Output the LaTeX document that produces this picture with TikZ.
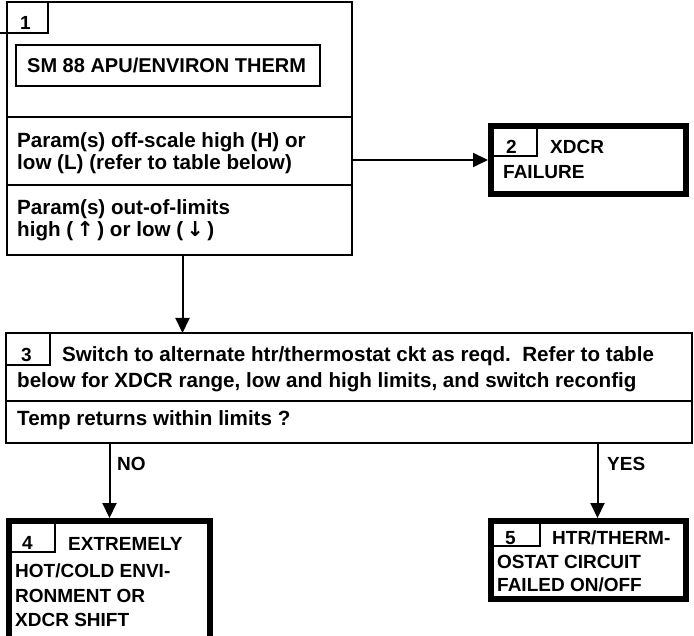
\documentclass[tikz,border=0pt]{standalone}
\usepackage{fontspec}
\setmainfont{Liberation Sans}
\newfontfamily\symfont{DejaVu Sans}
\usetikzlibrary{arrows.meta}
\begin{document}
\begin{tikzpicture}[x=1pt,y=-1pt,
  thinbox/.style={draw, line width=2pt, inner sep=0pt, outer sep=0pt},
  heavybox/.style={draw, line width=6pt, inner sep=0pt, outer sep=3pt},
  tagline/.style={line width=1.6pt},
  txt/.style={anchor=base west, inner sep=0pt, font=\fontsize{20.6}{24}\selectfont\bfseries},
  capstxt/.style={anchor=base west, inner sep=0pt, font=\fontsize{19}{23}\selectfont\bfseries},
  flow/.style={line width=2pt, -{Triangle[length=15pt,width=14pt]}},
]
\useasboundingbox (0,0) rectangle (694,636);
\clip (0,0) rectangle (694,636);
\fill[white] (0,0) rectangle (694,636);

% Box 1
\node[thinbox, minimum width=345pt, minimum height=253pt] (box1) at (179.5,128.5) {};
\draw[tagline] (0,33) -| (48,2);
\node[capstxt] (t1) at (20,30) {1};
\node[thinbox, line width=1.6pt, minimum width=304pt, minimum height=41pt] (inner1) at (168,65.5) {};
\node[capstxt, font=\fontsize{20}{24}\selectfont\bfseries] (t1a) at (27,73) {SM 88 APU/ENVIRON THERM};
\draw[line width=2pt] (box1.west |- 0,117) -- (box1.east |- 0,117);
\draw[line width=2pt] (box1.west |- 0,185) -- (box1.east |- 0,185);
\node[txt] (t1b) at (17,148) {Param(s) off-scale high (H) or};
\node[txt] (t1c) at (17,170) {low (L) (refer to table below)};
\node[txt] (t1d) at (17,215) {Param(s) out-of-limits};
\node[txt] (t1e) at (17,237) {high ({\symfont\bfseries\,↑\,}) or low ({\symfont\bfseries\,↓\,})};

% Box 2
\node[heavybox, minimum width=195pt, minimum height=68pt] (box2) at (588.5,160) {};
\draw[tagline] (491,156) -| (537,126);
\node[capstxt] (t2) at (506,154) {2};
\node[capstxt] (t2a) at (550,154) {XDCR};
\node[capstxt] (t2b) at (503,179) {FAILURE};

% Box 3
\node[thinbox, minimum width=686pt, minimum height=110pt] (box3) at (349,388) {};
\draw[tagline] (6,365) -| (50,333);
\node[capstxt] (t3) at (21,362) {3};
\node[txt] (t3a) at (62,362) {Switch to alternate htr/thermostat ckt as reqd.\ \ Refer to table};
\node[txt] (t3b) at (17,388) {below for XDCR range, low and high limits, and switch reconfig};
\draw[line width=2pt] (box3.west |- 0,401) -- (box3.east |- 0,401);
\node[txt] (t3c) at (17,425) {Temp returns within limits ?};

% Box 4
\node[heavybox, minimum width=201pt, minimum height=140pt] (box4) at (109.5,591) {};
\draw[tagline] (9,552) -| (55,522);
\node[capstxt] (t4) at (22,549) {4};
\node[capstxt] (t4a) at (68,550) {EXTREMELY};
\node[capstxt] (t4b) at (15,577) {HOT/COLD ENVI-};
\node[capstxt] (t4c) at (15,602) {RONMENT OR};
\node[capstxt] (t4d) at (15,626) {XDCR SHIFT};

% Box 5
\node[heavybox, minimum width=195pt, minimum height=78pt] (box5) at (588.5,560) {};
\draw[tagline] (491,546) -| (540,521);
\node[capstxt] (t5) at (505,544) {5};
\node[capstxt] (t5a) at (552,544) {HTR/THERM-};
\node[capstxt] (t5b) at (497,568) {OSTAT CIRCUIT};
\node[capstxt] (t5c) at (497,591) {FAILED ON/OFF};

% Connectors
\draw[flow] (box1.east |- box2.west) -- (box2.west);
\draw[flow] ([xshift=3pt]box1.south) -- ([xshift=3pt]box1.south |- box3.north);
\draw[flow] (box4.north |- box3.south) -- (box4.north);
\draw[flow] ([xshift=9pt]box5.north |- box3.south) -- ([xshift=9pt]box5.north);
\node[capstxt] (no) at (117,471) {NO};
\node[capstxt] (yes) at (607,471) {YES};
\end{tikzpicture}
\end{document}
